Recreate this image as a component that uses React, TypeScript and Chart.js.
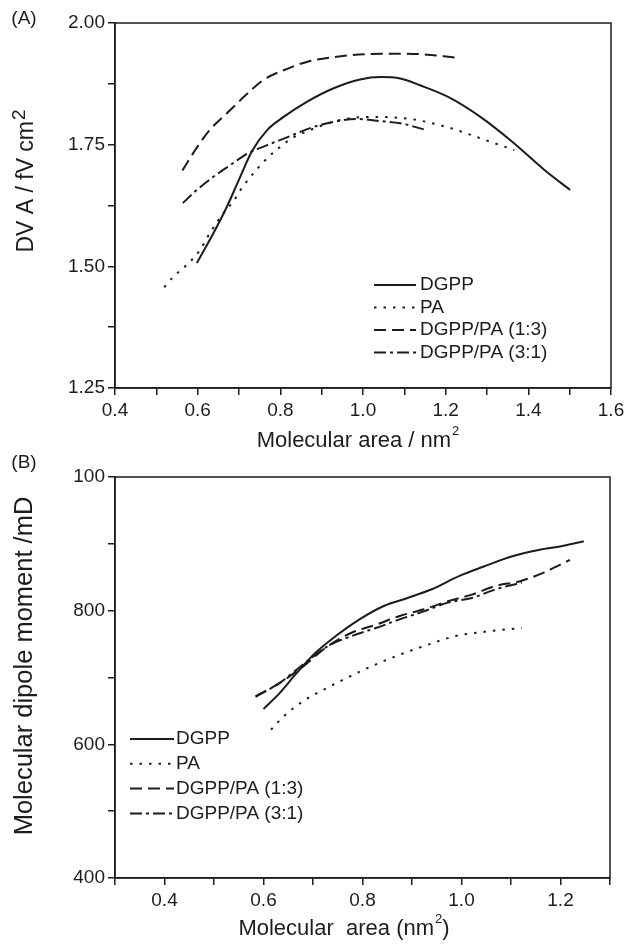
import React, { useEffect, useRef } from 'react';
import { Chart, registerables } from 'chart.js';
Chart.register(...registerables);

const FONT = '"Liberation Sans", Arial, Helvetica, sans-serif';
const INK = '#1c1c1c';

const SERIES_LABELS = ['DGPP', 'PA', 'DGPP/PA (1:3)', 'DGPP/PA (3:1)'];

// ---------- Panel A data ----------
const A_X_TICKS = [0.4, 0.6, 0.8, 1.0, 1.2, 1.4, 1.6];
const A_Y_TICKS = [1.25, 1.5, 1.75, 2.0];

const A_DGPP_X = [0.598, 0.638, 0.671, 0.703, 0.731, 0.768, 0.808, 0.864, 0.929, 0.993, 1.042, 1.09, 1.138, 1.206, 1.284, 1.361, 1.439, 1.501];
const A_DGPP_Y = [1.507, 1.568, 1.623, 1.684, 1.736, 1.78, 1.807, 1.838, 1.866, 1.884, 1.889, 1.886, 1.872, 1.848, 1.807, 1.756, 1.698, 1.657];

const A_PA_X = [0.519, 0.543, 0.57, 0.606, 0.63, 0.664, 0.686, 0.703, 0.722, 0.768, 0.796, 0.828, 0.872, 0.928, 0.985, 1.034, 1.073, 1.122, 1.216, 1.284, 1.366];
const A_PA_Y = [1.457, 1.48, 1.5, 1.534, 1.569, 1.611, 1.633, 1.656, 1.678, 1.722, 1.743, 1.763, 1.78, 1.797, 1.806, 1.807, 1.806, 1.802, 1.783, 1.763, 1.739];

const A_13_X = [0.563, 0.598, 0.63, 0.675, 0.719, 0.759, 0.808, 0.864, 0.929, 1.009, 1.09, 1.138, 1.225];
const A_13_Y = [1.697, 1.744, 1.781, 1.818, 1.854, 1.883, 1.903, 1.92, 1.93, 1.936, 1.937, 1.936, 1.929];

const A_31_X = [0.564, 0.598, 0.638, 0.679, 0.719, 0.768, 0.816, 0.872, 0.929, 0.985, 1.034, 1.09, 1.153];
const A_31_Y = [1.63, 1.657, 1.684, 1.708, 1.731, 1.749, 1.765, 1.784, 1.797, 1.803, 1.799, 1.794, 1.78];

// ---------- Panel B data ----------
const B_X_TICKS = [0.4, 0.6, 0.8, 1.0, 1.2];
const B_Y_TICKS = [400, 600, 800, 1000];
const B_Y_TICK_LABELS = ['400', '600', '800', '100'];

const B_DGPP_X = [0.6, 0.633, 0.665, 0.705, 0.746, 0.794, 0.843, 0.891, 0.94, 0.996, 1.045, 1.101, 1.158, 1.206, 1.247];
const B_DGPP_Y = [653, 677, 705, 737, 762, 787, 807, 819, 832, 852, 866, 881, 891, 897, 904];

const B_PA_X = [0.615, 0.641, 0.681, 0.722, 0.77, 0.819, 0.875, 0.932, 0.988, 1.053, 1.122];
const B_PA_Y = [622, 642, 665, 682, 700, 717, 734, 749, 762, 769, 774];

const B_13_X = [0.584, 0.633, 0.681, 0.73, 0.778, 0.827, 0.875, 0.924, 0.972, 1.021, 1.069, 1.118, 1.166, 1.219];
const B_13_Y = [672, 692, 717, 747, 767, 779, 792, 802, 814, 824, 837, 844, 857, 876];

const B_31_X = [0.584, 0.633, 0.681, 0.73, 0.778, 0.827, 0.875, 0.924, 0.972, 1.021, 1.069, 1.122];
const B_31_Y = [671, 692, 720, 747, 762, 774, 787, 799, 812, 819, 832, 842];

const DASHES: number[][] = [[], [2.5, 7], [12, 6], [12, 4, 3, 4]];

function pts(xs: number[], ys: number[]) {
  return xs.map((x, i) => ({ x, y: ys[i] }));
}

function makeDatasets(series: [number[], number[]][]) {
  return series.map(([xs, ys], i) => ({
    label: SERIES_LABELS[i],
    data: pts(xs, ys),
    borderColor: INK,
    borderWidth: 2,
    borderDash: DASHES[i],
    pointRadius: 0,
    cubicInterpolationMode: 'monotone',
    fill: false,
  }));
}

type TextItem = { main: string; sup: string; post: string; x: number; y: number; size: number; supSize: number; rise: number; rotate: boolean };

function drawSup(ctx: CanvasRenderingContext2D, t: TextItem) {
  ctx.save();
  ctx.translate(t.x, t.y);
  if (t.rotate) ctx.rotate(-Math.PI / 2);
  ctx.fillStyle = INK;
  ctx.textBaseline = 'middle';
  ctx.textAlign = 'left';
  ctx.font = `${t.size}px ${FONT}`;
  const w1 = ctx.measureText(t.main).width;
  const w3 = ctx.measureText(t.post).width;
  ctx.font = `${t.supSize}px ${FONT}`;
  const w2 = t.sup ? ctx.measureText(t.sup).width + 1 : 0;
  const start = -(w1 + w2 + w3) / 2;
  ctx.font = `${t.size}px ${FONT}`;
  ctx.fillText(t.main, start, 0);
  if (t.post) ctx.fillText(t.post, start + w1 + w2, 0);
  if (t.sup) {
    ctx.font = `${t.supSize}px ${FONT}`;
    ctx.fillText(t.sup, start + w1 + 1, -t.rise);
  }
  ctx.restore();
}

type Deco = {
  texts: TextItem[];
  legend: { lineX: number; lineLen: number; textX: number; y0: number; dy: number; size: number };
};

const decoPlugin = {
  id: 'deco',
  afterDraw(chart: any) {
    const opts: Deco = chart.options.plugins.deco;
    const ctx: CanvasRenderingContext2D = chart.ctx;
    const ca = chart.chartArea;
    ctx.save();
    ctx.strokeStyle = INK;
    ctx.lineWidth = 1.5;
    ctx.setLineDash([]);
    ctx.strokeRect(ca.left, ca.top, ca.right - ca.left, ca.bottom - ca.top);
    ctx.restore();
    opts.texts.forEach(t => drawSup(ctx, t));
    const L = opts.legend;
    chart.data.datasets.forEach((ds: any, i: number) => {
      const y = L.y0 + i * L.dy;
      ctx.save();
      ctx.strokeStyle = INK;
      ctx.lineWidth = 2;
      ctx.setLineDash(ds.borderDash || []);
      ctx.beginPath();
      ctx.moveTo(L.lineX, y);
      ctx.lineTo(L.lineX + L.lineLen, y);
      ctx.stroke();
      ctx.setLineDash([]);
      ctx.fillStyle = INK;
      ctx.font = `${L.size}px ${FONT}`;
      ctx.textBaseline = 'middle';
      ctx.textAlign = 'left';
      ctx.fillText(ds.label, L.textX, y);
      ctx.restore();
    });
  },
};

function axisCommon() {
  return {
    grid: { display: true, drawOnChartArea: false, drawTicks: true, tickLength: 7, color: INK, lineWidth: 1.5 },
    border: { display: true, color: INK, width: 1.5 },
  };
}

function buildConfig(p: {
  datasets: any[]; xMin: number; xMax: number; yMin: number; yMax: number; yStep: number;
  xLabel: (v: number) => string; yLabel: (v: number) => string;
  padding: any; deco: Deco; tickSize: number;
}) {
  return {
    type: 'line',
    data: { datasets: p.datasets },
    plugins: [decoPlugin],
    options: {
      animation: false,
      responsive: false,
      events: [],
      layout: { padding: p.padding },
      plugins: { legend: { display: false }, tooltip: { enabled: false }, deco: p.deco },
      scales: {
        x: {
          type: 'linear', min: p.xMin, max: p.xMax,
          ...axisCommon(),
          ticks: {
            stepSize: 0.1, autoSkip: false, maxRotation: 0, minRotation: 0, padding: 4, color: INK,
            font: { family: FONT, size: p.tickSize }, callback: (v: any) => p.xLabel(Number(v)),
          },
          afterFit: (s: any) => { s.height = 40; s.paddingLeft = 0; s.paddingRight = 0; },
        },
        y: {
          type: 'linear', min: p.yMin, max: p.yMax,
          ...axisCommon(),
          ticks: {
            stepSize: p.yStep, autoSkip: false, padding: 3, color: INK,
            font: { family: FONT, size: p.tickSize }, callback: (v: any) => p.yLabel(Number(v)),
          },
          afterFit: (s: any) => { s.width = 115; s.paddingTop = 0; s.paddingBottom = 0; },
        },
      },
    },
  };
}

function near(list: number[], v: number) {
  return list.findIndex(t => Math.abs(t - v) < 1e-6);
}

export default function App() {
  const refA = useRef<HTMLCanvasElement>(null);
  const refB = useRef<HTMLCanvasElement>(null);

  useEffect(() => {
    const dsA = makeDatasets([[A_DGPP_X, A_DGPP_Y], [A_PA_X, A_PA_Y], [A_13_X, A_13_Y], [A_31_X, A_31_Y]]);
    const dsB = makeDatasets([[B_DGPP_X, B_DGPP_Y], [B_PA_X, B_PA_Y], [B_13_X, B_13_Y], [B_31_X, B_31_Y]]);

    const cfgA: any = buildConfig({
      datasets: dsA, xMin: 0.4, xMax: 1.6, yMin: 1.25, yMax: 2.0, yStep: 0.125,
      xLabel: v => { const r = Math.round(v * 10) / 10; return near(A_X_TICKS, r) >= 0 ? r.toFixed(1) : ''; },
      yLabel: v => { const r = Math.round(v * 1000) / 1000; return near(A_Y_TICKS, r) >= 0 ? r.toFixed(2) : ''; },
      padding: { top: 23, right: 14, bottom: 945 - 388 - 40, left: 0 },
      tickSize: 19,
      deco: {
        texts: [
          { main: '(A)', sup: '', post: '', x: 24, y: 19, size: 19, supSize: 12, rise: 0, rotate: false },
          { main: 'Molecular area / nm', sup: '2', post: '', x: 358, y: 441, size: 22, supSize: 13, rise: 10, rotate: false },
          { main: 'DV A / fV cm', sup: '2', post: '', x: 27, y: 181, size: 23, supSize: 19, rise: 7, rotate: true },
          { main: '(B)', sup: '', post: '', x: 24, y: 463, size: 19, supSize: 12, rise: 0, rotate: false },
        ],
        legend: { lineX: 374, lineLen: 42, textX: 420, y0: 285, dy: 22.5, size: 19 },
      },
    });

    const cfgB: any = buildConfig({
      datasets: dsB, xMin: 0.3, xMax: 1.3, yMin: 400, yMax: 1000, yStep: 100,
      xLabel: v => { const r = Math.round(v * 10) / 10; return near(B_X_TICKS, r) >= 0 ? r.toFixed(1) : ''; },
      yLabel: v => { const i = near(B_Y_TICKS, Math.round(v)); return i >= 0 ? B_Y_TICK_LABELS[i] : ''; },
      padding: { top: 477, right: 15, bottom: 945 - 878 - 40, left: 0 },
      tickSize: 19,
      deco: {
        texts: [
          { main: 'Molecular  area (nm', sup: '2', post: ')', x: 344, y: 929, size: 22, supSize: 13, rise: 10, rotate: false },
          { main: 'Molecular dipole moment /mD', sup: '', post: '', x: 25, y: 666, size: 25.5, supSize: 12, rise: 0, rotate: true },
        ],
        legend: { lineX: 130, lineLen: 44, textX: 176, y0: 739, dy: 24.8, size: 19 },
      },
    });

    const a = new Chart(refA.current as HTMLCanvasElement, cfgA);
    const b = new Chart(refB.current as HTMLCanvasElement, cfgB);
    return () => { a.destroy(); b.destroy(); };
  }, []);

  const style: React.CSSProperties = { position: 'absolute', left: 0, top: 0, width: 625, height: 945 };
  return (
    <div style={{ position: 'absolute', left: 0, top: 0, width: 625, height: 945, background: '#fff' }}>
      <canvas ref={refA} width={625} height={945} style={style} />
      <canvas ref={refB} width={625} height={945} style={style} />
    </div>
  );
}
